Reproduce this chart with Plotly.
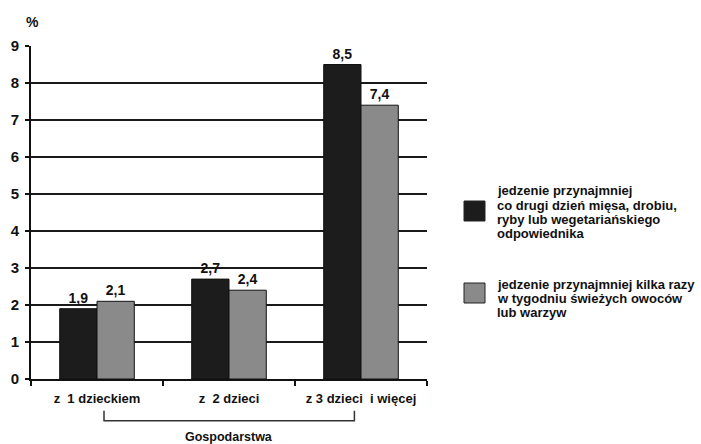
import plotly.graph_objects as go

# Data
categories = ["z  1 dzieckiem", "z  2 dzieci", "z 3 dzieci  i więcej"]
meat_share = [1.9, 2.7, 8.5]
fruit_share = [2.1, 2.4, 7.4]
series_lines = [
    ["jedzenie przynajmniej", "co drugi dzień mięsa, drobiu,",
     "ryby lub wegetariańskiego", "odpowiednika"],
    ["jedzenie przynajmniej kilka razy", "w tygodniu świeżych owoców",
     "lub warzyw"],
]
y_ticks = [0, 1, 2, 3, 4, 5, 6, 7, 8, 9]

FONT = "Liberation Sans, Arial, sans-serif"
DARK = "#1c1c1c"
LIGHT = "#8a8a8a"

def fmt(v):
    return f"<b>{v:.1f}</b>".replace(".", ",")

fig = go.Figure()
for vals, col, lines in [(meat_share, DARK, series_lines[0]), (fruit_share, LIGHT, series_lines[1])]:
    fig.add_trace(go.Bar(
        x=categories, y=vals, name=" ".join(lines),
        marker=dict(color=col, line=dict(color="#111111", width=1)),
        text=[fmt(v) for v in vals], textposition="outside",
        textfont=dict(family=FONT, size=14, color="#111111"),
        cliponaxis=False, showlegend=False,
    ))

fig.update_layout(
    width=701, height=444,
    margin=dict(l=31, r=274, t=46, b=65),
    paper_bgcolor="white", plot_bgcolor="white",
    barmode="group", bargap=0.435, bargroupgap=0,
    font=dict(family=FONT, color="#111111"),
)
fig.update_yaxes(
    range=[0, 9], tickvals=y_ticks, ticktext=[f"<b>{t}</b>" for t in y_ticks],
    showgrid=True, gridcolor="#1a1a1a", gridwidth=2,
    showline=True, linecolor="#111111", linewidth=2,
    ticks="outside", ticklen=4, tickwidth=2, tickcolor="#111111",
    tickfont=dict(family=FONT, size=15, color="#111111"),
    zeroline=False, ticklabelstandoff=3,
)
fig.update_xaxes(
    range=[-0.5, 2.5],
    tickvals=categories, ticktext=[f"<b>{c}</b>" for c in categories],
    showline=True, linecolor="#111111", linewidth=2,
    ticks="outside", tickson="boundaries", ticklen=5, tickwidth=2, tickcolor="#111111",
    tickfont=dict(family=FONT, size=13, color="#111111"),
    showgrid=False, ticklabelstandoff=6,
)

# "%" unit label above the value axis
fig.add_annotation(x=0, y=1, xref="paper", yref="paper", xanchor="left", yanchor="bottom",
                   xshift=-7, yshift=14, text="<b>%</b>", showarrow=False,
                   font=dict(family=FONT, size=14, color="#111111"))

# Bracket grouping the household categories
fig.add_shape(type="path", xref="x", yref="paper",
              path="M 0.053 -0.095 L 0.053 -0.125 L 1.95 -0.125 L 1.95 -0.095",
              line=dict(color="#333333", width=1.5))
fig.add_annotation(x=1, y=-0.174, xref="x", yref="paper", yanchor="middle",
                   text="<b>Gospodarstwa</b>", showarrow=False,
                   font=dict(family=FONT, size=12.5, color="#111111"))

# Legend drawn beside the plot: swatch plus tightly spaced text lines
def px_x(p):
    return (p - 31) / 396

def px_y(p):
    return (379 - p) / 333

legend_items = [(DARK, series_lines[0], 211, 191), (LIGHT, series_lines[1], 293, 284)]
for col, lines, sw_y, first_line_y in legend_items:
    fig.add_shape(type="rect", xref="paper", yref="paper",
                  x0=px_x(464), x1=px_x(485),
                  y0=px_y(sw_y + 10), y1=px_y(sw_y - 10),
                  fillcolor=col, line=dict(color="#222222", width=1))
    for i, line in enumerate(lines):
        fig.add_annotation(x=px_x(495), y=px_y(first_line_y + 14.3 * i),
                           xref="paper", yref="paper",
                           xanchor="left", yanchor="middle", align="left",
                           text=f"<b>{line}</b>", showarrow=False,
                           font=dict(family=FONT, size=13, color="#111111"))

fig.write_html("out.html")
